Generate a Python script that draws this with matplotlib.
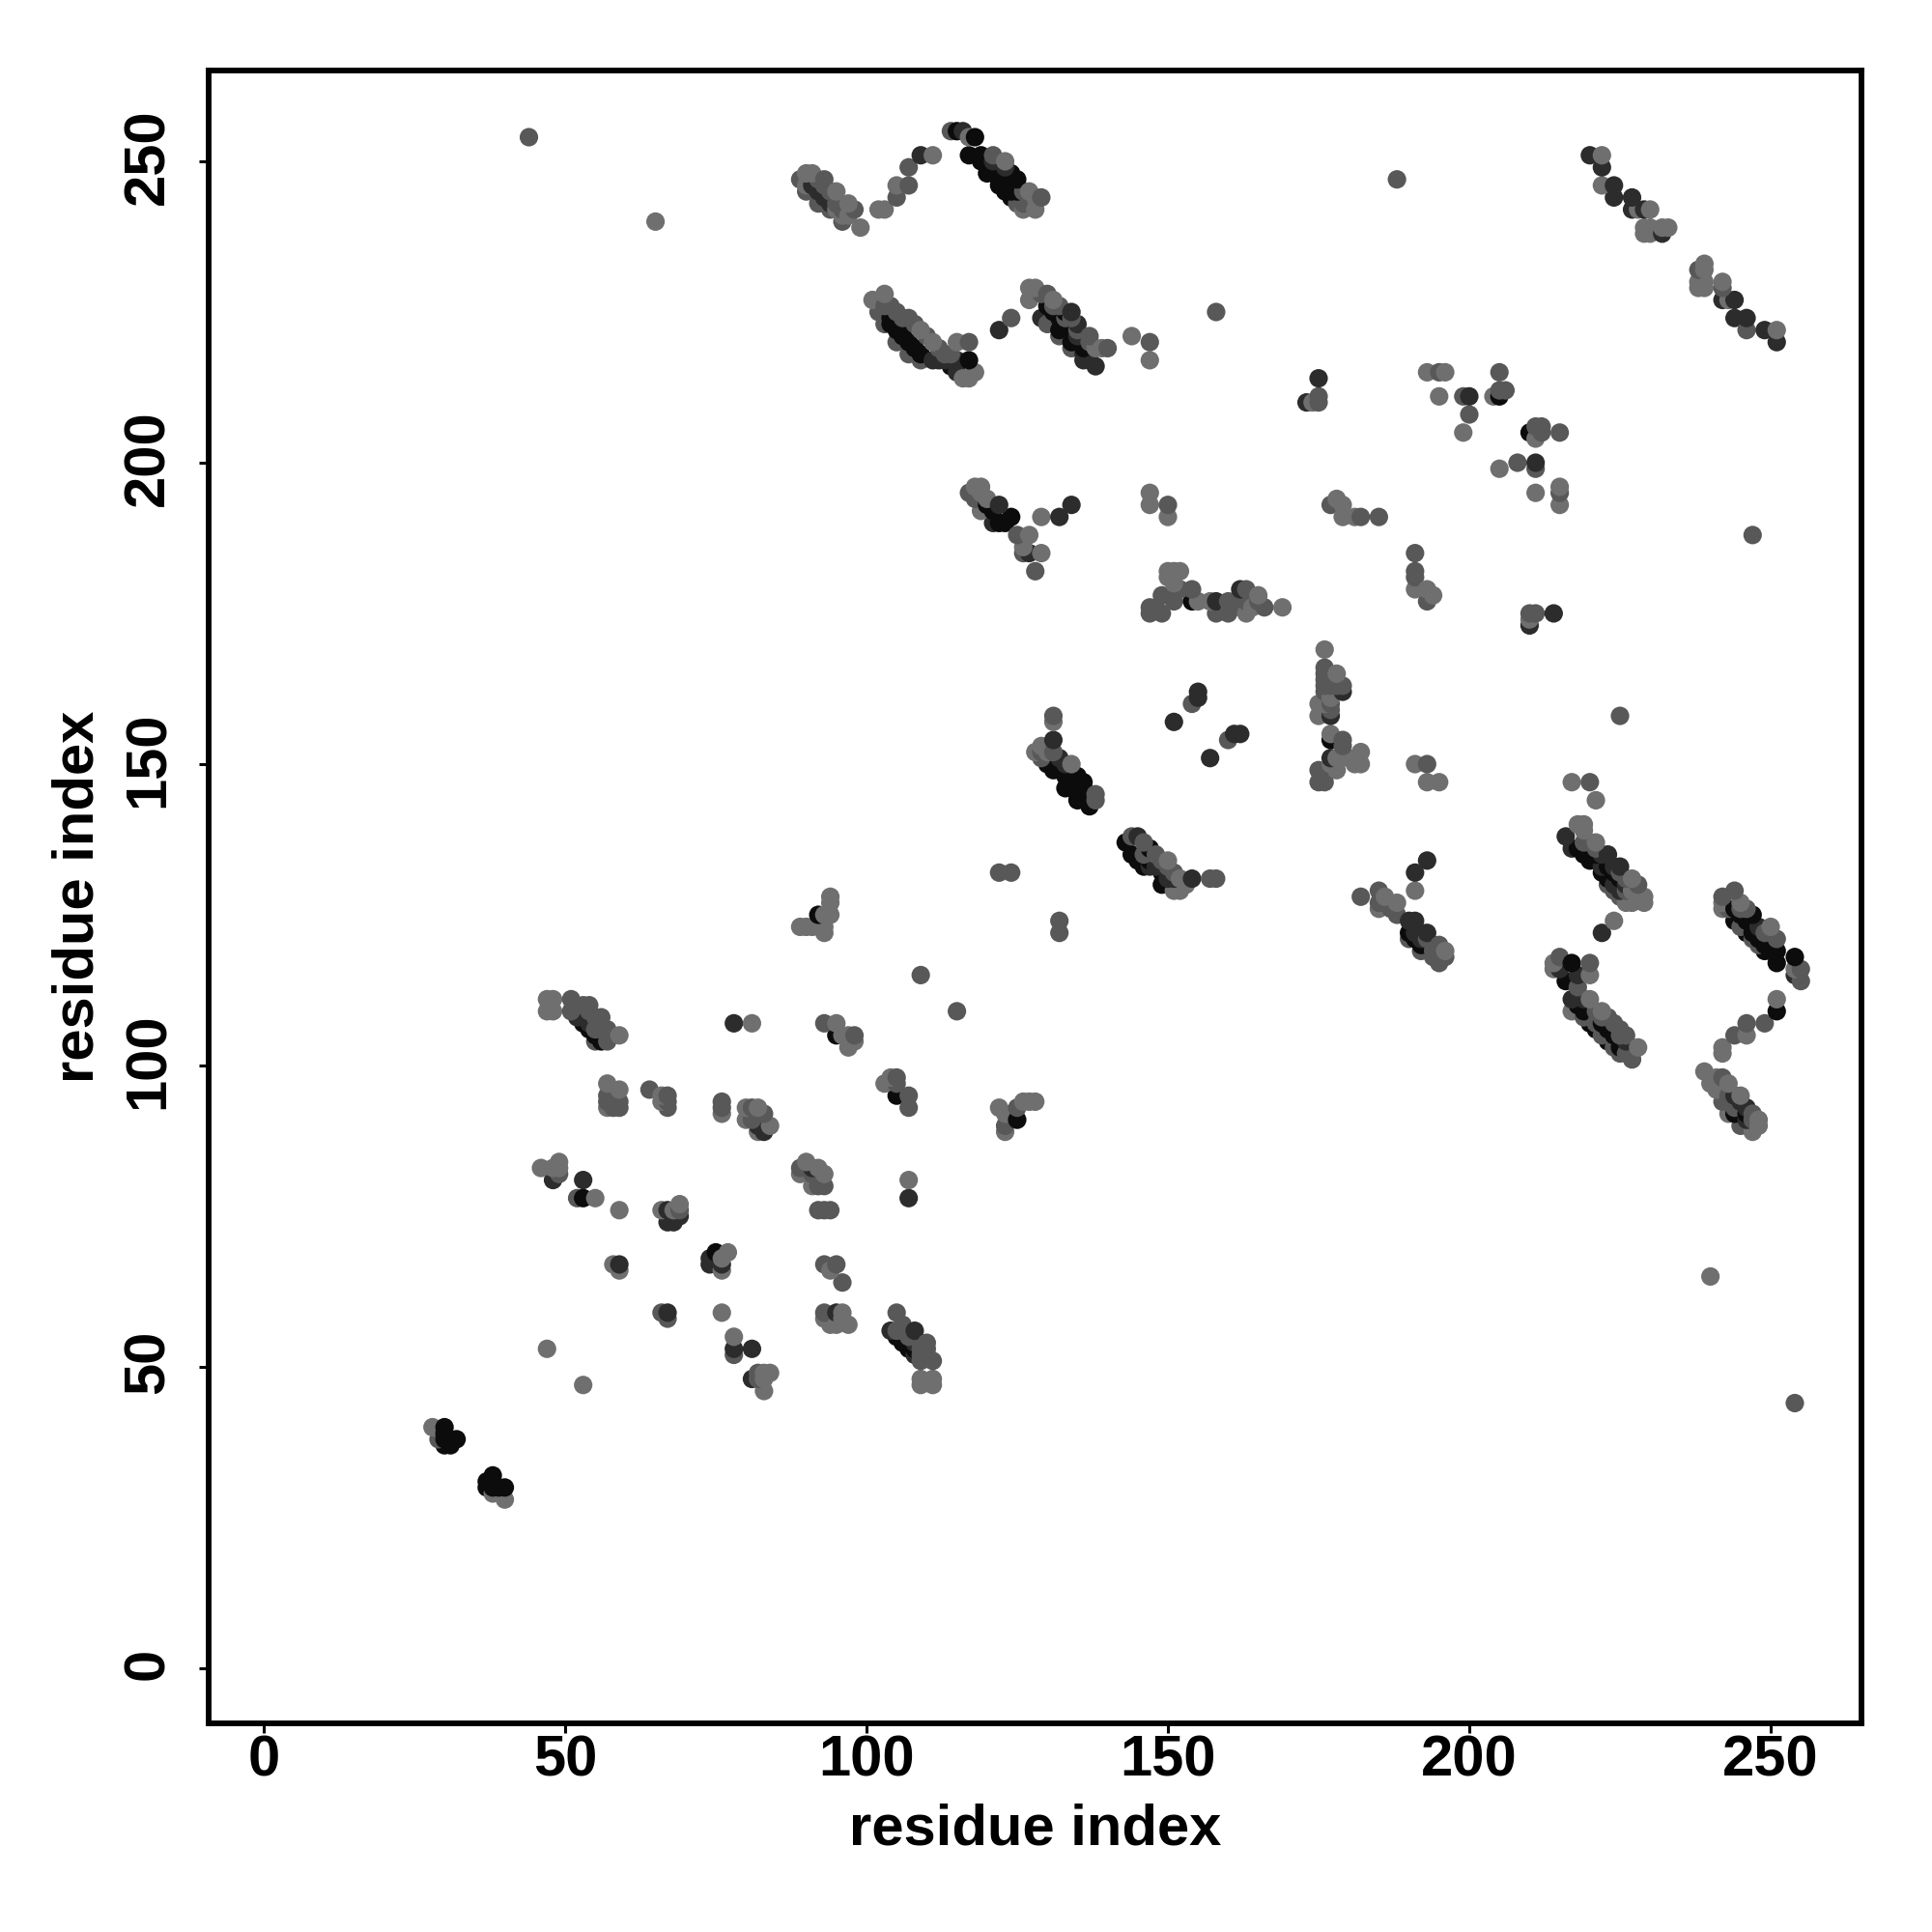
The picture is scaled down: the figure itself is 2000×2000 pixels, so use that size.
import matplotlib
matplotlib.use('Agg')
import matplotlib.pyplot as plt
from matplotlib.transforms import ScaledTranslation

plt.rcParams['font.family'] = ['Liberation Sans', 'DejaVu Sans']

# contacts, grouped by how dark the dot is
black_pts = [(30,40),(30,39),(30,38),(30,37),(31,37),(32,38),(31,38),
             (37,31),(38,32),(38,31),(37,30),(38,30),(40,30),(39,30),
             (53,107),(54,106),(55,105),(56,105),(56,104),(75,69),(95,105),(105,95),(53,78),
             (105,55),(106,55),(106,54),(107,54),(107,53),(108,53),(92,125),(125,91),(245,92),(246,92),
             (115,255),(118,254),(117,251),(119,251),(120,250),(120,249),(121,248),(122,249),(122,247),(122,246),(123,248),
             (124,248),(124,246),(123,245),(125,246),(125,245),(124,244),
             (125,247),(124,247),(123,247),(122,248),(119,250),(120,248),(124,245),
             (104,224),(104,223),(105,222),(106,221),(107,220),(108,219),(109,218),(106,222),(117,217),(114,216),
             (130,226),(131,225),(132,224),(133,223),(134,222),(136,219),(132,222),(134,220),(133,225),
             (130,150),(131,149),(132,149),(133,148),(133,146),(135,144),(136,147),(135,147),(137,143),
             (136,145),(134,146),(135,145),(137,144),(134,149),(135,148),(136,146),
             (143,137),(144,135),(146,133),(147,136),(147,134),(149,130),(145,134),(149,132),
             (154,177),(177,154),(205,211),(210,205),
             (120,193),(121,192),(123,190),(124,191),(122,190),(193,120),
             (218,136),(219,135),(220,134),(221,134),(222,132),(223,131),(217,117),(216,114),(221,135),(223,133),(224,132),(225,131),
             (219,109),(220,107),(221,106),(223,104),(225,103),(218,110),(222,107),(223,106),(224,105),
             (244,124),(246,122),(247,125),(249,119),(250,119),(251,119),(251,117),(254,118),(244,126),(246,124),(247,122),
             (247,123),(245,125),(248,121),(249,121),(251,109),(244,92),(250,121),(249,120),
             (190,122),(191,121),(192,120)]

dark_pts = [(78,107),(78,53),(81,53),(81,48),(53,81),(48,81),(74,68),(74,67),(76,67),(67,59),(59,67),
            (67,76),(67,74),(68,74),(69,75),(91,83),(82,90),(83,89),(107,78),(95,59),(104,56),(108,56),
            (108,52),(108,54),(52,108),(54,107),(109,251),(116,255),(122,222),(129,224),(134,225),(135,223),(136,217),
            (138,216),(137,217),(135,221),(115,215),(115,217),(111,217),(112,217),(113,217),(136,218),
            (91,246),(92,245),(93,244),(94,243),(121,250),(123,249),
            (132,191),(134,193),(122,193),(121,190),(127,185),(133,150),(151,131),(147,133),
            (155,162),(155,161),(151,157),(162,155),(161,155),(157,151),(131,154),(132,151),(145,138),
            (148,133),(150,131),(154,131),(158,177),(162,179),(177,158),(177,151),(179,162),
            (175,214),(173,210),(200,211),(211,200),(210,173),(214,175),(191,122),(192,121),(192,122),
            (193,134),(191,132),(191,124),(190,124),(193,122),(222,135),(224,133),(226,130),
            (216,138),(217,136),(223,135),(225,133),(224,130),(225,129),(222,133),(222,122),
            (215,116),(217,111),(218,115),(226,104),(219,111),(248,123),(254,115),(244,95),(246,93),(246,91),(245,94),
            (220,251),(222,249),(224,246),(224,244),(227,244),(227,242),(229,242),(242,227),(244,227),
            (244,224),(246,224),(249,222),(251,220),(232,238)]

mid_pts = [(44,254),(188,247),(158,225),(247,188),(225,158),(254,44),(115,109),(109,115),
           (89,247),(92,247),(93,246),(90,245),(92,243),(94,242),(96,240),(98,242),(91,245),(92,244),(93,243),
           (95,243),(96,242),(94,245),(93,247),(103,226),(106,224),(108,223),(110,221),(112,219),(105,220),(107,218),(103,223),
           (131,226),(133,224),(135,222),(137,220),(132,226),(134,224),(130,223),(132,221),(134,219),(131,152),(129,152),
           (148,135),(149,134),(150,133),(146,137),
           (105,244),(107,246),(107,249),(114,255),(121,251),(129,244),(126,243),(125,243),(127,243),(126,245),
           (102,225),(105,225),(107,224),(117,220),(109,217),(113,218),(114,218),(104,226),
           (124,224),(129,228),(130,228),(137,221),(140,219),(147,220),
           (117,195),(118,194),(125,188),(126,185),(128,182),
           (154,179),(149,178),(151,178),(151,177),(152,179),(147,176),(147,175),(149,175),(148,176),
           (158,175),(160,175),(160,177),(163,179),(163,177),(162,176),(166,176),(161,177),(165,177),
           (177,193),(182,191),(185,191),(150,193),(176,164),(177,163),(220,147),
           (176,166),(179,163),(176,165),(176,163),(176,162),(178,163),(177,160),(177,159),(179,154),(179,153),
           (177,149),(175,149),(175,147),(176,147),(154,160),(160,154),(131,158),(129,151),(138,145),(138,144),
           (144,138),(146,135),(151,132),(157,131),(158,131),
           (175,211),(175,210),(195,215),(199,211),(200,208),(205,215),(205,212),(206,212),(211,206),(212,206),
           (212,205),(215,205),(208,200),(211,199),(215,195),(191,185),(191,182),(191,181),(193,177),
           (210,175),(211,175),(193,150),(182,128),(185,129),(185,127),(186,127),(187,126),(188,125),(190,121),(192,119),
           (194,119),(195,118),(193,121),(194,120),
           (195,120),(196,118),(195,117),(194,118),(122,132),(124,132),(132,124),(132,122),
           (219,137),(221,136),(225,132),(226,131),(223,130),(225,128),
           (220,137),(228,130),(224,129),(226,129),(215,118),(218,113),(220,117),(222,108),(224,107),
           (221,109),(223,108),(225,106),(226,105),(219,108),(221,107),(222,105),(224,103),
           (225,105),(225,102),(226,102),(227,102),(227,101),(245,126),(246,126),(249,122),(245,123),(247,121),
           (242,128),(244,129),(243,126),(251,121),(255,116),(255,114),(248,120),
           (243,95),(244,93),(247,91),(246,90),
           (249,107),(246,107),(244,105),(242,98),(242,94),(247,92),(245,90),
           (238,232),(242,229),(246,222),
           (51,111),(51,109),(53,110),(54,110),(56,108),(57,106),(55,104),(57,104),(57,95),(57,94),(59,94),(59,93),(58,93),
           (55,106),(56,106),(57,105),(55,108),(54,109),
           (64,96),(67,95),(67,93),(67,94),(76,94),(76,93),(81,93),(81,91),(83,92),
           (93,107),(98,105),(105,98),(105,97),(107,95),(107,93),(123,90),(125,93),
           (49,82),(52,78),(69,76),(89,83),(91,82),(92,80),(93,80),(92,76),(93,76),(94,76),
           (93,67),(95,67),(96,64),(66,59),(67,58),(93,59),(78,52),(82,49),(82,48),
           (106,56),(107,55),(109,53),(110,52),(110,53),
           (105,59),(105,56),(106,57),(110,54),(109,54),(109,51),(111,51),(109,52),(29,38)]

light_pts = [(65,240),(240,65),(47,53),(53,47),(217,147),(131,157),(176,160),(130,152),
             (90,248),(91,248),(95,245),(97,243),(99,239),(90,246),(97,241),(96,241),(95,242),
             (102,242),(103,242),(105,246),(111,251),(117,254),(123,250),(127,245),(128,244),(126,242),(128,242),
             (101,227),(103,228),(109,222),(111,220),(115,220),(118,215),(116,214),(117,214),
             (127,229),(128,229),(127,227),(131,227),(138,219),(139,219),(144,221),(147,217),
             (118,196),(119,196),(119,195),(119,192),(120,194),(127,188),(126,186),(129,185),(129,191),
             (147,195),(147,193),(150,191),(178,194),(179,193),(179,191),(181,191),
             (150,182),(151,182),(152,182),(150,181),(151,180),(155,177),(157,177),(163,175),(165,178),(164,176),(169,176),
             (176,169),(178,165),(177,161),(175,160),(175,158),(177,155),(180,151),(182,152),(182,150),(181,150),
             (178,149),(177,150),(178,151),(129,153),(128,152),(134,150),(150,134),(152,131),(153,130),(151,129),(152,129),
             (174,210),(193,215),(196,215),(195,211),(199,205),(204,211),(211,204),(205,199),(211,195),(215,196),(215,193),
             (191,179),(193,179),(194,178),(210,174),(191,150),(193,147),(195,147),(191,129),
             (186,128),(185,126),(188,127),(196,119),(227,129),(228,128),(241,98),
             (218,140),(219,140),(219,139),(221,137),(227,131),(226,127),(227,127),(229,128),(229,127),(221,144),(224,124),
             (214,117),(214,116),(220,115),(220,111),(217,109),(222,109),(228,103),
             (242,127),(242,126),(245,127),(250,123),(254,116),(251,111),(246,105),(242,103),(242,102),
             (239,99),(240,97),(243,97),(241,96),(245,95),(248,91),(248,90),(247,89),(243,92),
             (222,251),(222,246),(228,242),(230,242),(229,239),(230,239),(229,238),(230,238),(232,239),(233,239),
             (239,233),(239,232),(238,230),(239,230),(238,229),(239,229),(242,230),(243,227),(251,222),
             (47,111),(48,111),(47,109),(48,109),(59,105),(57,97),(59,96),(57,93),(66,95),(66,94),(76,92),
             (80,93),(80,91),(82,93),(84,90),(82,89),(81,107),(95,107),(96,105),(97,105),(98,104),(97,103),
             (103,97),(104,98),(122,93),(123,92),(123,89),(126,94),(127,94),(128,94),
             (94,128),(94,127),(89,123),(90,123),(91,123),(93,123),(93,122),(94,125),(93,125),
             (46,83),(48,83),(49,84),(49,83),(55,78),(59,76),(66,76),(69,77),(68,76),(89,82),(90,84),(92,83),
             (91,80),(93,82),(107,81),(58,67),(59,66),(77,69),(76,68),(76,66),(94,66),(76,59),
             (96,59),(93,58),(94,57),(95,57),(97,57),(96,58),(78,55),(84,49),(83,48),(83,46),(83,49),
             (109,48),(109,47),(111,48),(111,47),(28,40),(38,29),(40,28)]

tick_vals = [0, 50, 100, 150, 200, 250]
shades = ['#0c0c0c', '#2c2c2c', '#585858', '#6f6f6f']
groups = [black_pts, dark_pts, mid_pts, light_pts]

fig = plt.figure(figsize=(20, 20), dpi=100, facecolor='white')
ax = fig.add_axes([216/2000, 1 - 1784/2000, (1927-216)/2000, (1784-73)/2000])

# upper right dots sit on top in the bands, so draw in order of x+y
rows = []
for pts, col in zip(groups, shades):
    for p in pts:
        rows.append((p[0], p[1], col))
rows.sort(key=lambda r: r[0] + r[1])
ax.scatter([r[0] for r in rows], [r[1] for r in rows], s=190, c=[r[2] for r in rows],
           linewidths=0, zorder=3)

ax.set_xlim(-9.13, 265.06)
ax.set_ylim(-9.13, 265.06)
ax.set_xticks(tick_vals)
ax.set_yticks(tick_vals)

for side in ax.spines.values():
    side.set_linewidth(4.2)

ax.tick_params(axis='x', length=7, width=2.2, labelsize=43, pad=1.5)
ax.tick_params(axis='y', length=7, width=2.2, labelsize=43, pad=18)
for lab in ax.get_xticklabels():
    lab.set_fontweight('bold')
nudge = ScaledTranslation(0, 3.4/72, fig.dpi_scale_trans)
for lab in ax.get_yticklabels():
    lab.set_fontweight('bold')
    lab.set_rotation(90)
    lab.set_va('center')
    lab.set_transform(lab.get_transform() + nudge)

ax.set_xlabel('residue index', fontsize=43, fontweight='bold', labelpad=11.5)
ax.set_ylabel('residue index', fontsize=43, fontweight='bold', labelpad=13)

fig.savefig('out.png', dpi=100, facecolor='white')
